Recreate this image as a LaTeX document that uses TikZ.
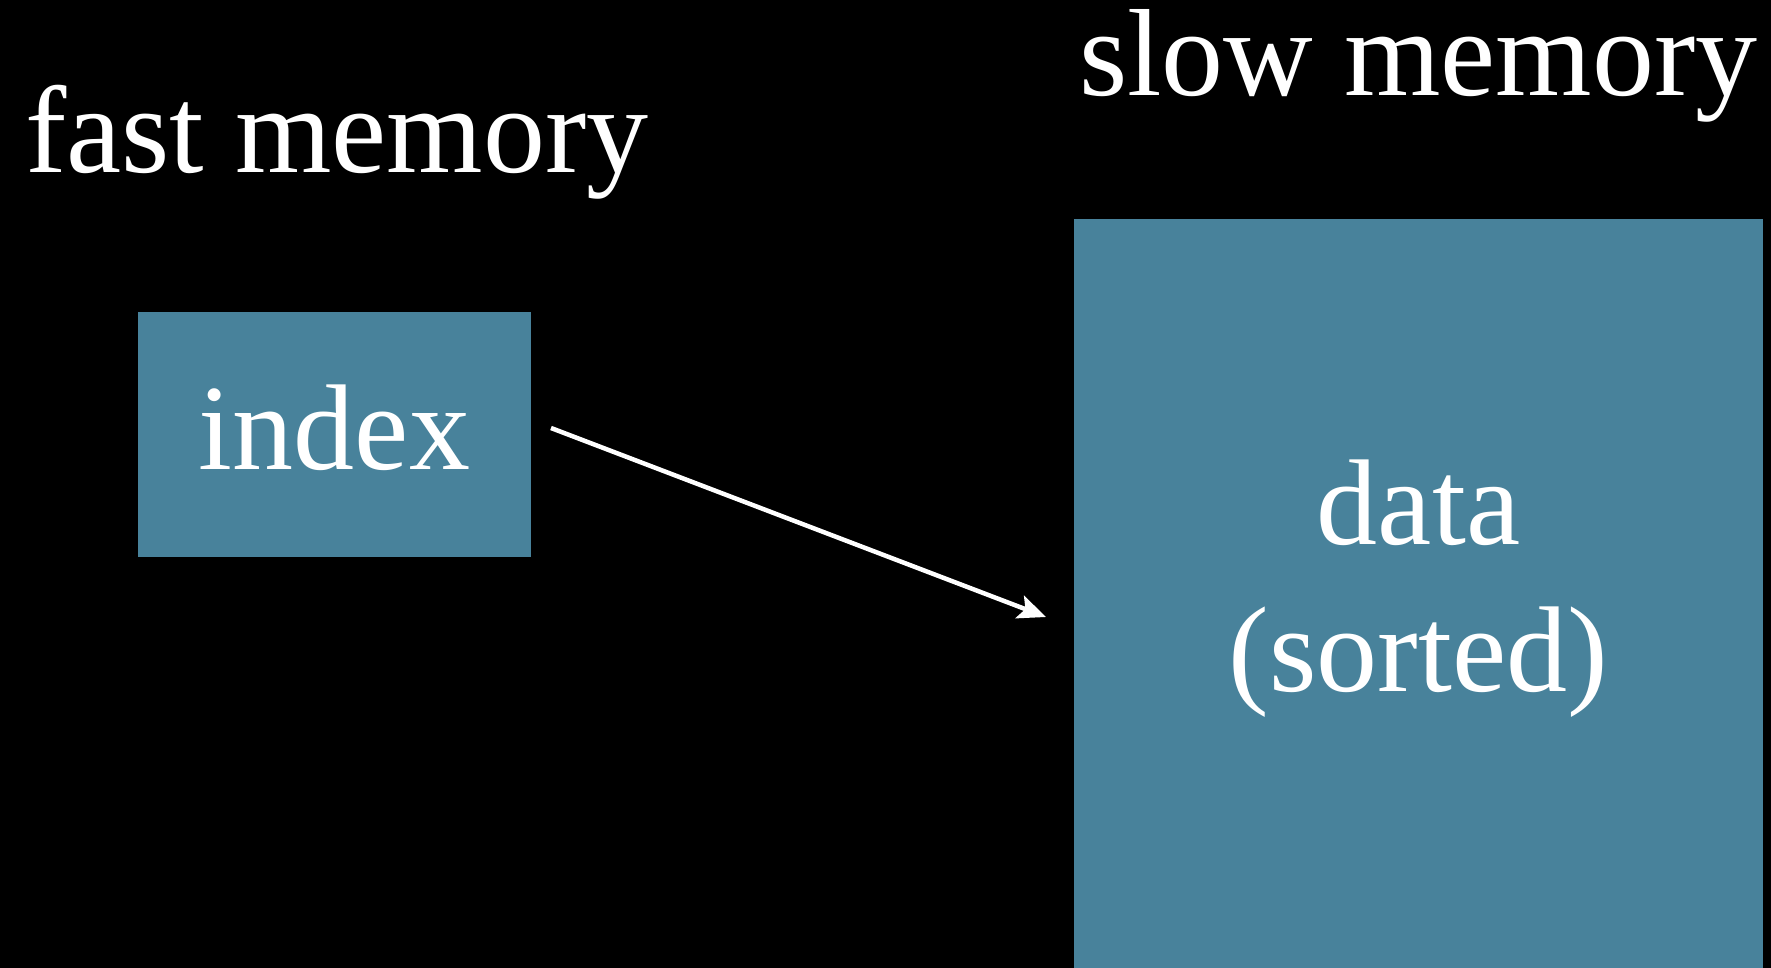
\documentclass[tikz,border=0pt]{standalone}
\usepackage{fontspec}
\setmainfont{Liberation Serif}
\usetikzlibrary{arrows.meta}
\definecolor{boxblue}{RGB}{72,130,155}
\begin{document}
\begin{tikzpicture}[x=1pt,y=-1pt,
  memtitle/.style={text=white,inner sep=0pt,anchor=base west,font=\fontsize{124}{140}\selectfont},
  boxtext/.style={text=white,inner sep=0pt,anchor=base,font=\fontsize{122}{140}\selectfont},
  membox/.style={fill=boxblue,draw=none,inner sep=0pt,anchor=north west},
  pointer/.style={draw=white,line width=4.5pt,-{Stealth[length=28pt,width=24pt,inset=6pt]}}]
  % canvas
  \fill[black] (0,0) rectangle (1771,968);
  \useasboundingbox (0,0) rectangle (1771,968);
  % memory regions
  \node[membox,minimum width=393pt,minimum height=245pt] (idx) at (138,312) {};
  \node[membox,minimum width=689pt,minimum height=760pt] (data) at (1074,219) {};
  % headings
  \node[memtitle] (fast) at (25,173) {fast memory};
  \node[memtitle] (slow) at (1079,96) {slow memory};
  % contents
  \node[boxtext] (idxlabel) at (334.5,469) {index};
  \node[boxtext] (datalabel) at (1418.5,544) {data};
  \node[boxtext] (sortlabel) at (1418.5,691) {(sorted)};
  % lookup arrow
  \coordinate (from) at (551,428);
  \coordinate (to) at (1046,617);
  \draw[pointer] (from) -- (to);
\end{tikzpicture}
\end{document}
